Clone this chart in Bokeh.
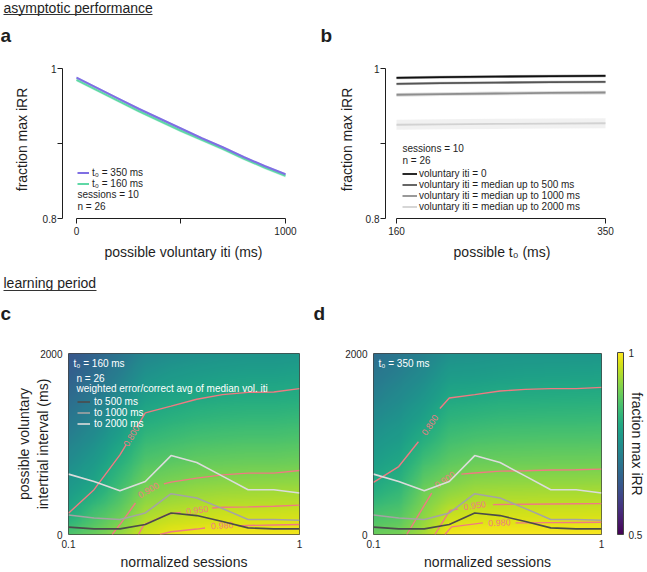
import numpy as np
from bokeh.plotting import figure
from bokeh.layouts import column, row
from bokeh.models import (FixedTicker, Label, Legend, LegendItem, ColorBar,
                          LinearColorMapper, Arrow, Range1d, LinearAxis)
from bokeh.palettes import Viridis256
from bokeh.core.properties import value
from bokeh.embed import file_html
from bokeh.resources import INLINE

FONT = "Liberation Sans"
INK = "#1e1e1e"

# ---------------- data: panel a ----------------
iti_ms = [0, 100, 200, 300, 400, 500, 600, 700, 800, 900, 1000]
frac_t350 = [0.988, 0.974, 0.960, 0.946, 0.933, 0.920, 0.907, 0.895, 0.882, 0.870, 0.859]
frac_t160 = [0.985, 0.971, 0.957, 0.943, 0.930, 0.917, 0.905, 0.893, 0.880, 0.868, 0.857]
err_t350 = [0.0012, 0.0012, 0.0012, 0.0012, 0.0012, 0.0012, 0.0012, 0.0012, 0.0012, 0.0012, 0.0012]
err_t160 = [0.0022, 0.0022, 0.0022, 0.0022, 0.0022, 0.0022, 0.0022, 0.0022, 0.0022, 0.0022, 0.0022]

# ---------------- data: panel b ----------------
t0_ms = [160, 200, 250, 300, 350]
frac_iti0 = [0.9876, 0.9884, 0.9892, 0.9898, 0.9902]
frac_to500 = [0.9796, 0.9804, 0.9812, 0.9818, 0.9822]
frac_to1000 = [0.9650, 0.9658, 0.9667, 0.9674, 0.9680]
frac_to2000 = [0.9250, 0.9256, 0.9262, 0.9266, 0.9270]
err_iti0 = [0.0020, 0.0020, 0.0020, 0.0020, 0.0020]
err_to500 = [0.0018, 0.0018, 0.0018, 0.0018, 0.0018]
err_to1000 = [0.0025, 0.0025, 0.0025, 0.0025, 0.0025]
err_to2000 = [0.0067, 0.0067, 0.0067, 0.0067, 0.0067]

# ---------------- data: panels c, d ----------------
sessions = [0.1, 0.129, 0.167, 0.215, 0.278, 0.359, 0.464, 0.599, 0.774, 1.0]
iti_levels = [0, 250, 500, 750, 1000, 1250, 1500, 1750, 2000]
# rows = iti_levels, columns = sessions
irr_t160 = [
    [0.860, 0.885, 0.920, 0.965, 0.983, 0.988, 0.990, 0.990, 0.990, 0.990],
    [0.798, 0.848, 0.881, 0.932, 0.945, 0.951, 0.957, 0.958, 0.959, 0.961],
    [0.772, 0.800, 0.851, 0.900, 0.910, 0.918, 0.922, 0.924, 0.926, 0.927],
    [0.748, 0.776, 0.822, 0.870, 0.880, 0.887, 0.890, 0.892, 0.892, 0.895],
    [0.724, 0.752, 0.793, 0.841, 0.851, 0.859, 0.862, 0.864, 0.864, 0.867],
    [0.700, 0.728, 0.766, 0.811, 0.822, 0.830, 0.834, 0.836, 0.836, 0.840],
    [0.677, 0.705, 0.741, 0.783, 0.795, 0.802, 0.807, 0.809, 0.809, 0.812],
    [0.655, 0.683, 0.717, 0.757, 0.770, 0.777, 0.782, 0.785, 0.785, 0.789],
    [0.635, 0.662, 0.694, 0.732, 0.745, 0.752, 0.757, 0.760, 0.760, 0.765],
]
irr_t350 = [
    [0.885, 0.895, 0.935, 0.990, 0.995, 0.995, 0.995, 0.995, 0.995, 0.995],
    [0.850, 0.862, 0.910, 0.951, 0.960, 0.962, 0.962, 0.963, 0.963, 0.964],
    [0.808, 0.830, 0.888, 0.911, 0.925, 0.927, 0.928, 0.929, 0.929, 0.930],
    [0.785, 0.801, 0.856, 0.881, 0.892, 0.894, 0.895, 0.896, 0.896, 0.897],
    [0.765, 0.780, 0.820, 0.854, 0.863, 0.866, 0.867, 0.868, 0.868, 0.869],
    [0.745, 0.760, 0.790, 0.828, 0.834, 0.838, 0.839, 0.840, 0.840, 0.841],
    [0.720, 0.740, 0.765, 0.801, 0.805, 0.810, 0.811, 0.812, 0.813, 0.814],
    [0.700, 0.720, 0.743, 0.776, 0.778, 0.782, 0.785, 0.786, 0.787, 0.788],
    [0.680, 0.700, 0.722, 0.752, 0.755, 0.760, 0.762, 0.763, 0.764, 0.765],
]
# weighted error/correct avg of median voluntary iti (ms)
vol_to500 = [81, 62, 62, 110, 238, 209, 143, 73, 62, 62]
vol_to1000 = [216, 183, 165, 238, 451, 403, 286, 165, 165, 158]
vol_to2000 = [667, 586, 484, 586, 872, 795, 645, 495, 495, 458]

nan = float("nan")
contour_levels = ["0.800", "0.900", "0.950", "0.980"]
# contour lines (gaps where the inline labels sit)
c_cont_x = [
    [0.1, 0.129, 0.167, 0.1775, nan, 0.1984, 0.215, 0.278, 0.359, 0.464, 0.599, 0.774, 1.0],
    [0.1545, 0.167, 0.195, nan, 0.2587, 0.278, 0.359, 0.464, 0.599, 0.774, 1.0],
    [0.2009, 0.212, 0.272, 0.306, nan, 0.419, 0.464, 0.599, 0.774, 1.0],
    [0.2487, 0.278, 0.359, 0.39, nan, 0.54, 0.599, 0.774, 1.0],
]
c_cont_y = [
    [235, 495, 880, 991, nan, 1195, 1344, 1418, 1494, 1546, 1571, 1575, 1612],
    [0, 110, 348, nan, 560, 579, 623, 659, 678, 678, 707],
    [0, 110, 227, 245, nan, 293, 301, 305, 312, 325],
    [0, 30, 60, 72, nan, 95, 100, 105, 110],
]
d_cont_x = [
    [0.1, 0.129, 0.1574, nan, 0.1955, 0.215, 0.278, 0.359, 0.464, 0.599, 0.774, 1.0],
    [0.140, 0.180, nan, 0.243, 0.278, 0.359, 0.464, 0.599, 0.774, 1.0],
    [0.186, 0.2163, 0.235, nan, 0.334, 0.359, 0.464, 0.599, 0.774, 1.0],
    [0.2056, 0.22, 0.302, nan, 0.42, 0.464, 0.599, 0.774, 1.0],
]
d_cont_y = [
    [575, 751, 1025, nan, 1392, 1509, 1546, 1586, 1604, 1612, 1612, 1626],
    [0, 458, nan, 667, 680, 700, 705, 712, 715, 722],
    [0, 267, 280, nan, 330, 332, 335, 337, 339, 341],
    [0, 84, 128, nan, 128, 129, 131, 133, 135],
]
# inline label anchors (data units) and angles (deg)
c_lab_x = [0.1874, 0.222, 0.3606, 0.4627]
c_lab_y = [1088, 490, 267, 99]
c_lab_ang = [59, 30, 8, 3]
d_lab_x = [0.1770, 0.2056, 0.278, 0.3566]
d_lab_y = [1209, 604, 319, 129]
d_lab_ang = [56, 34, 8, 2]

CONT = "#f07a82"
C500, C1000, C2000 = "#4b4b4b", "#a4a4a4", "#dcdcdc"


def style_axis(ax, size="10px"):
    ax.axis_line_color = INK
    ax.major_tick_line_color = INK
    ax.minor_tick_line_color = None
    ax.major_tick_out = 5
    ax.major_tick_in = 0
    ax.major_label_text_font = FONT
    ax.major_label_text_font_size = size
    ax.major_label_text_color = INK
    ax.axis_label_text_font = FONT
    ax.axis_label_text_font_size = "14px"
    ax.axis_label_text_font_style = "normal"
    ax.axis_label_text_color = INK


def label(p, x, y, text, size="10px", color=INK, bold=False, angle=0.0,
          align="left", baseline="middle"):
    p.add_layout(Label(x=x, y=y, x_units="screen", y_units="screen", text=text,
                       text_font=FONT, text_font_size=size, text_color=color,
                       text_font_style="bold" if bold else "normal",
                       angle=angle, text_align=align, text_baseline=baseline))


def underline(p, x0, x1, y):
    p.add_layout(Arrow(end=None, x_start=x0, y_start=y, x_end=x1, y_end=y,
                       start_units="screen", end_units="screen",
                       line_color="#333333", line_width=1))


def base_fig(w, h, xr, yr, ml, mr, mt, mb, **kw):
    p = figure(width=w, height=h, x_range=xr, y_range=yr, output_backend="svg",
               toolbar_location=None, min_border_left=ml, min_border_right=mr,
               min_border_top=mt, min_border_bottom=mb, **kw)
    p.xgrid.visible = False
    p.ygrid.visible = False
    p.background_fill_color = "white"
    p.border_fill_color = "white"
    return p


def header_fig(w, h):
    p = figure(width=w, height=h, x_range=Range1d(0, 1), y_range=Range1d(0, 1),
               x_axis_location=None, y_axis_location=None, output_backend="svg",
               toolbar_location=None, min_border=0)
    p.outline_line_color = None
    p.xgrid.visible = False
    p.ygrid.visible = False
    return p


def legend(p, items, loc, gw, standoff, color=INK):
    lg = Legend(items=items, location=loc, glyph_width=gw, glyph_height=11,
                label_height=11, label_standoff=standoff, spacing=0, padding=0,
                margin=0, border_line_color=None, background_fill_alpha=0,
                label_text_font=FONT, label_text_font_size="10px",
                label_text_color=color)
    p.add_layout(lg)


# ================= header (top) =================
h1 = header_fig(647, 46)
label(h1, 3, 39, "asymptotic performance", size="14px")
underline(h1, 3, 152, 32)
label(h1, 0, 11, "a", size="19px", bold=True)
label(h1, 320, 11, "b", size="19px", bold=True)

# ================= panel a =================
pa = base_fig(320, 226, Range1d(-67, 1091), Range1d(0.8, 1.0107), 62, 16, 14, 54)
pa.outline_line_color = None
for vals, err, col in [(frac_t160, err_t160, "#66dcb0"), (frac_t350, err_t350, "#8070e4")]:
    v = np.array(vals); e = np.array(err)
    pa.varea(x=iti_ms, y1=v - e, y2=v + e, fill_color=col, fill_alpha=0.3)
r160 = pa.line(iti_ms, frac_t160, line_color="#5fd8a6", line_width=2)
r350 = pa.line(iti_ms, frac_t350, line_color="#7f6fe3", line_width=2)
style_axis(pa.xaxis[0]); style_axis(pa.yaxis[0])
pa.xaxis.ticker = FixedTicker(ticks=[0, 500, 1000])
pa.xaxis.major_label_overrides = {0: "0", 500: "", 1000: "1000"}
pa.xaxis.bounds = (0, 1000)
pa.xaxis.major_label_standoff = 3
pa.xaxis.axis_label_standoff = 6
pa.xaxis.axis_label = "possible voluntary iti (ms)"
pa.yaxis.ticker = FixedTicker(ticks=[0.8, 0.9, 1.0])
pa.yaxis.major_label_overrides = {0.8: "0.8", 0.9: "", 1.0: "1"}
pa.yaxis.bounds = (0.8, 1.0)
pa.yaxis.major_label_standoff = 1
pa.yaxis.axis_label_standoff = 10
pa.yaxis.axis_label = "fraction max iRR"
legend(pa, [LegendItem(label="t₀ = 350 ms", renderers=[r350]),
            LegendItem(label="t₀ = 160 ms", renderers=[r160])], (15, 29), 12, 3)
label(pa, 15, 24, "sessions = 10")
label(pa, 15, 12, "n = 26")

# ================= panel b =================
pb = base_fig(327, 226, Range1d(150, 361.8), Range1d(0.8, 1.0107), 65, 29, 14, 54)
pb.outline_line_color = None
b_series = [(frac_to2000, err_to2000, "#d2d2d2", "voluntary iti = median up to 2000 ms"),
            (frac_to1000, err_to1000, "#8e8e8e", "voluntary iti = median up to 1000 ms"),
            (frac_to500, err_to500, "#555555", "voluntary iti = median up to 500 ms"),
            (frac_iti0, err_iti0, "#111111", "voluntary iti = 0")]
b_items = []
for vals, err, col, name in b_series:
    v = np.array(vals); e = np.array(err)
    pb.varea(x=t0_ms, y1=v - e, y2=v + e, fill_color=col, fill_alpha=0.3)
    r = pb.line(t0_ms, vals, line_color=col, line_width=1.8)
    b_items.append(LegendItem(label=name, renderers=[r]))
style_axis(pb.xaxis[0]); style_axis(pb.yaxis[0])
pb.xaxis.ticker = FixedTicker(ticks=[160, 350])
pb.xaxis.bounds = (160, 350)
pb.xaxis.major_label_standoff = 3
pb.xaxis.axis_label_standoff = 6
pb.xaxis.axis_label = "possible t₀ (ms)"
pb.yaxis.ticker = FixedTicker(ticks=[0.8, 0.9, 1.0])
pb.yaxis.major_label_overrides = {0.8: "0.8", 0.9: "", 1.0: "1"}
pb.yaxis.bounds = (0.8, 1.0)
pb.yaxis.major_label_standoff = 1
pb.yaxis.axis_label_standoff = 8
pb.yaxis.axis_label = "fraction max iRR"
legend(pb, b_items[::-1], (17, 6), 15, 2)
label(pb, 17, 70, "sessions = 10")
label(pb, 17, 58, "n = 26")

# ================= header (bottom) =================
h2 = header_fig(647, 53)
label(h2, 3, 43, "learning period", size="14px")
underline(h2, 3, 96, 35)
label(h2, 0, 12, "c", size="19px", bold=True)
label(h2, 313, 12, "d", size="19px", bold=True)

# ================= panels c, d =================
mapper = LinearColorMapper(palette=Viridis256, low=0.5, high=1.0)


def field_image(grid, nx=240, ny=190):
    g = np.array(grid)
    lx = np.log10(sessions)
    gx = np.linspace(-1, 0, nx)
    gy = np.linspace(0, 2000, ny)
    cols = np.array([np.interp(gy, iti_levels, g[:, j]) for j in range(g.shape[1])])
    return np.array([np.interp(gx, lx, cols[:, i]) for i in range(ny)])


def heat_panel(w, ml, mr, grid, cx, cy, lx, ly, lang):
    p = base_fig(w, 247, Range1d(0.1, 1.0), Range1d(0, 2000), ml, mr, 28, 37,
                 x_axis_type="log")
    p.outline_line_color = "#444444"
    p.outline_line_width = 1
    p.image(image=[field_image(grid)], x=0.1, y=0, dw=0.9, dh=2000, color_mapper=mapper)
    for xs, ys in zip(cx, cy):
        p.line(xs, ys, line_color=CONT, line_width=1.4)
    p.text(x=lx, y=ly, text=contour_levels, angle=list(np.deg2rad(lang)),
           text_color=CONT, text_font=value(FONT), text_font_size="9px",
           text_align="center", text_baseline="middle")
    rs = []
    for vals, col in [(vol_to500, C500), (vol_to1000, C1000), (vol_to2000, C2000)]:
        rs.append(p.line(sessions, vals, line_color=col, line_width=1.6))
    for ax in (p.xaxis[0], p.yaxis[0]):
        style_axis(ax)
        ax.axis_line_color = None
        ax.major_tick_line_color = None
        ax.major_tick_out = 0
    p.xaxis.ticker = FixedTicker(ticks=[0.1, 1.0])
    p.xaxis.major_label_overrides = {0.1: "0.1", 1.0: "1"}
    p.xaxis.major_label_standoff = 5
    p.xaxis.axis_label_standoff = 3
    p.xaxis.axis_label = "normalized sessions"
    p.yaxis.ticker = FixedTicker(ticks=[0, 2000])
    p.yaxis.major_label_overrides = {0: "0", 2000: "2000"}
    p.yaxis.major_label_standoff = 6
    return p, rs


pc, rc = heat_panel(330, 68, 31, irr_t160, c_cont_x, c_cont_y, c_lab_x, c_lab_y, c_lab_ang)
pd, rd = heat_panel(317, 43, 44, irr_t350, d_cont_x, d_cont_y, d_lab_x, d_lab_y, d_lab_ang)

pc.yaxis.axis_label = "possible voluntary\nintertrial interval (ms)"
pc.yaxis.axis_label_standoff = -14
label(pc, 5, 171, "t₀ = 160 ms", color="white")
label(pc, 8, 156, "n = 26", color="white")
label(pc, 8, 146, "weighted error/correct avg of median vol. iti", color="white")
legend(pc, [LegendItem(label="to 500 ms", renderers=[rc[0]]),
            LegendItem(label="to 1000 ms", renderers=[rc[1]]),
            LegendItem(label="to 2000 ms", renderers=[rc[2]])], (9, 105), 13, 4, color="white")

label(pd, 5, 171, "t₀ = 350 ms", color="white")
cb = ColorBar(color_mapper=mapper, location=(244, 0), width=6, height=182,
              padding=0, margin=0, ticker=FixedTicker(ticks=[0.5, 1.0]),
              major_label_overrides={0.5: "0.5", 1.0: "1"},
              major_tick_line_color=None, bar_line_color="#444444",
              label_standoff=5, major_label_text_font=FONT,
              major_label_text_font_size="10px", major_label_text_color=INK,
              background_fill_alpha=0, border_line_color=None)
pd.add_layout(cb)
cb_axis = LinearAxis(ticker=FixedTicker(ticks=[]), axis_label="fraction max iRR",
                     axis_line_color=None, major_tick_line_color=None,
                     minor_tick_line_color=None, axis_label_standoff=27,
                     axis_label_text_font=FONT, axis_label_text_font_size="14px",
                     axis_label_text_font_style="normal", axis_label_text_color=INK)
pd.add_layout(cb_axis, "right")

layout = column(h1, row(pa, pb), h2, row(pc, pd))
open("out.html", "w").write(file_html(layout, INLINE))
